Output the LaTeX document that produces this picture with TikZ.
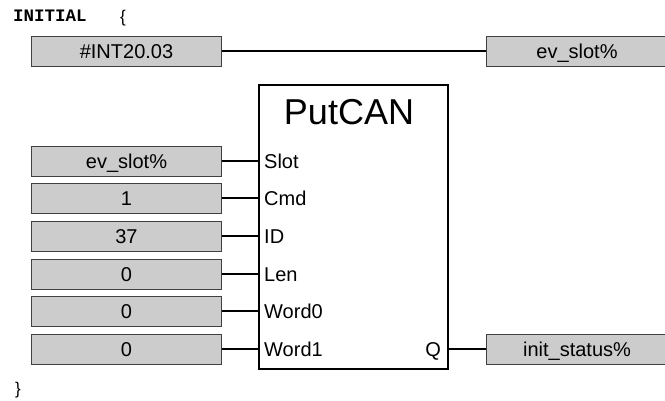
\documentclass[tikz,border=0pt]{standalone}
\usepackage{fontspec}
\setmainfont{Liberation Sans}
\newfontfamily\monob{Liberation Mono}
\begin{document}
\begin{tikzpicture}[x=1bp,y=-1bp,
  valbox/.style={draw=black!75,fill=black!20,line width=1bp,inner sep=0pt,
    minimum height=30bp,text height=14.3bp,text depth=0pt,
    font=\fontsize{20bp}{20bp}\selectfont},
  wire/.style={line width=2bp,black},
  port/.style={inner sep=0pt,font=\fontsize{20bp}{20bp}\selectfont},
  block/.style={draw=black,line width=2bp,fill=white}]
\useasboundingbox (0,0) rectangle (665,400);
% header
\node[inner sep=0pt,anchor=base west,font=\monob\bfseries\fontsize{17.5bp}{17.5bp}\selectfont] (init) at (13,21) {INITIAL};
\node[inner sep=0pt,anchor=base west,font=\fontsize{17bp}{17bp}\selectfont] (ob) at (120,22) {\{};
\node[inner sep=0pt,anchor=base west,font=\fontsize{17bp}{17bp}\selectfont] (cb) at (15,394) {\}};
% top assignment
\node[valbox,minimum width=189bp] (v0) at (126.5,51) {\#INT20.03};
\node[valbox,minimum width=181bp,anchor=west] (r0) at (486,51) {ev\_slot\%};
\draw[wire] (v0.east) -- (r0.west);
% block
\node[block,minimum width=189bp,minimum height=284bp,inner sep=0pt] (blk) at (353.5,227) {};
\node[inner sep=0pt,anchor=base,font=\fontsize{36bp}{36bp}\selectfont] (title) at (349,124) {PutCAN};
% inputs
\foreach \i/\val/\pname/\y in {1/ev\_slot\%/Slot/161, 2/1/Cmd/198, 3/37/ID/236, 4/0/Len/274, 5/0/Word0/311, 6/0/Word1/349}{
  \node[valbox,minimum width=189bp] (v\i) at (126.5,\y) {\val};
  \coordinate (pin\i) at (blk.west |- v\i);
  \draw[wire] (v\i.east) -- (pin\i);
  \node[port,anchor=base west] (p\i) at (264,\y+7.2) {\pname};
}
% output
\node[port,anchor=base east] (q) at (441,356.2) {Q};
\node[valbox,minimum width=181bp,anchor=west] (r1) at (486,349) {init\_status\%};
\coordinate (qpin) at (blk.east |- r1);
\draw[wire] (qpin) -- (r1.west);
\end{tikzpicture}
\end{document}
